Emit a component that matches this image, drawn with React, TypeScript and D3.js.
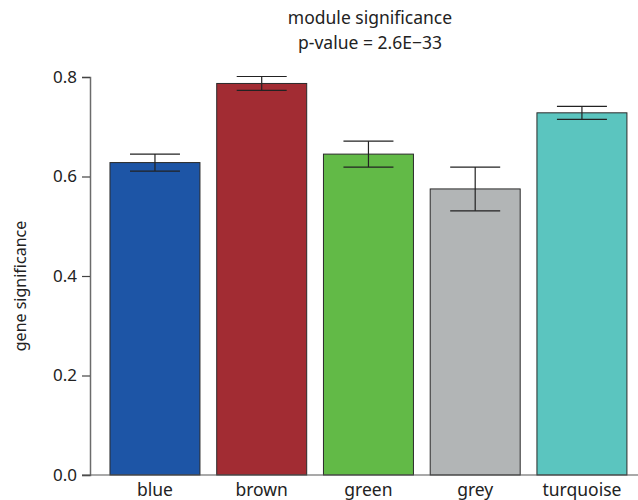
import React, { useEffect, useRef } from 'react';
import * as d3 from 'd3';

// module colours / names, mean gene significance and standard error
const modules = ['blue', 'brown', 'green', 'grey', 'turquoise'];
const meanValues = [0.628, 0.787, 0.645, 0.575, 0.728];
const errValues = [0.017, 0.014, 0.026, 0.044, 0.013];
const barColors = ['#1d55a6', '#a22c33', '#62ba47', '#b2b5b6', '#5bc5bf'];
const yTicks = [0, 0.2, 0.4, 0.6, 0.8];

const FONT = '"Noto Sans", "Open Sans", sans-serif';

export default function App() {
  const ref = useRef<SVGSVGElement | null>(null);

  useEffect(() => {
    const width = 638;
    const height = 500;
    const svg = d3.select(ref.current);
    svg.selectAll('*').remove();

    const axisX = 90;
    const x = d3.scaleBand<string>()
      .domain(modules)
      .range([99.3, 637.6])
      .paddingInner(0.157)
      .paddingOuter(0.1);

    const y = d3.scaleLinear().domain([0, 0.8]).range([475, 77]);

    const data = modules.map((m, i) => ({ name: m, value: meanValues[i], err: errValues[i], color: barColors[i] }));

    // title
    svg.append('text')
      .attr('x', 370).attr('y', 24)
      .attr('text-anchor', 'middle')
      .attr('font-family', FONT).attr('font-size', 17.5).attr('fill', '#222')
      .text('module significance');
    svg.append('text')
      .attr('x', 370).attr('y', 49)
      .attr('text-anchor', 'middle')
      .attr('font-family', FONT).attr('font-size', 17.5).attr('fill', '#222')
      .text('p-value = 2.6E\u221233');

    // bars
    svg.append('g').selectAll('rect')
      .data(data)
      .join('rect')
      .attr('x', d => x(d.name)!)
      .attr('y', d => y(d.value))
      .attr('width', x.bandwidth())
      .attr('height', d => y(0) - y(d.value))
      .attr('fill', d => d.color)
      .attr('stroke', '#2a2a2a')
      .attr('stroke-width', 1);

    // error bars
    const capHalf = 25;
    const eb = svg.append('g').attr('stroke', '#222').attr('stroke-width', 1.2);
    data.forEach(d => {
      const cx = x(d.name)! + x.bandwidth() / 2;
      eb.append('line').attr('x1', cx).attr('x2', cx).attr('y1', y(d.value + d.err)).attr('y2', y(d.value - d.err));
      eb.append('line').attr('x1', cx - capHalf).attr('x2', cx + capHalf).attr('y1', y(d.value + d.err)).attr('y2', y(d.value + d.err));
      eb.append('line').attr('x1', cx - capHalf).attr('x2', cx + capHalf).attr('y1', y(d.value - d.err)).attr('y2', y(d.value - d.err));
    });

    // y axis
    const yAxis = svg.append('g')
      .attr('transform', `translate(${axisX},0)`)
      .call(d3.axisLeft(y).tickValues(yTicks).tickFormat(d3.format('.1f')).tickSize(8).tickPadding(5));
    yAxis.select('.domain').attr('stroke', '#6b6b6b').attr('stroke-width', 1.5);
    yAxis.selectAll('.tick line').attr('stroke', '#444').attr('stroke-width', 1.2);
    yAxis.selectAll('.tick text').attr('font-family', FONT).attr('font-size', 17).attr('fill', '#222');

    // x baseline
    svg.append('line')
      .attr('x1', axisX - 8).attr('x2', width)
      .attr('y1', y(0)).attr('y2', y(0))
      .attr('stroke', '#555').attr('stroke-width', 1.2);

    // x labels
    svg.append('g').selectAll('text')
      .data(data)
      .join('text')
      .attr('x', d => x(d.name)! + x.bandwidth() / 2)
      .attr('y', 496)
      .attr('text-anchor', 'middle')
      .attr('font-family', FONT).attr('font-size', 17.5).attr('fill', '#222')
      .text(d => d.name);

    // y label
    svg.append('text')
      .attr('transform', `translate(26,${(y(0) + y(0.8)) / 2 + 10}) rotate(-90)`)
      .attr('text-anchor', 'middle')
      .attr('font-family', FONT).attr('font-size', 16).attr('fill', '#222')
      .text('gene significance');

    svg.attr('width', width).attr('height', height);
  }, []);

  return (
    <svg ref={ref} width={638} height={500} style={{ position: 'absolute', left: 0, top: 0 }} />
  );
}
